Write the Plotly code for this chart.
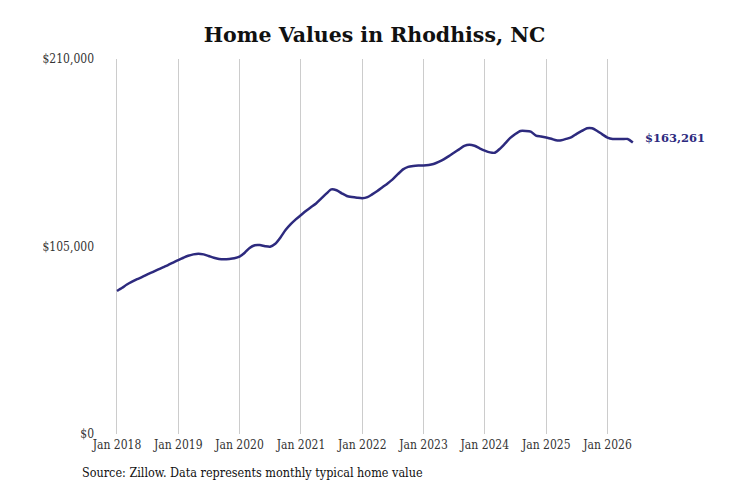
import pandas as pd
import plotly.graph_objects as go

# monthly typical home value, Jan 2018 .. Jun 2026
months = pd.date_range("2018-01-01", periods=102, freq="MS")
values = [
    80100, 81900, 83700, 85300, 86700, 88000, 89400, 90700, 92000, 93300, 94600, 96000,
    97400, 98700, 99800, 100600, 101000, 100600, 99700, 98700, 98000, 97800, 98000, 98400,
    99300, 101500, 104200, 105700, 105800, 105200, 104900, 106500, 110100, 114200, 117500, 120200,
    122600, 125000, 127000, 129100, 131800, 134600, 137000, 136500, 134800, 133300, 132700, 132300,
    132000, 132600, 134200, 136100, 138200, 140300, 142600, 145500, 148200, 149600, 150100, 150300,
    150300, 150600, 151200, 152400, 153800, 155600, 157500, 159400, 161300, 162000, 161400, 160000,
    158700, 157700, 157500, 159800, 162700, 165800, 168000, 169700, 169700, 169300, 167100, 166600,
    166000, 165300, 164500, 164500, 165300, 166300, 168100, 169700, 171200, 171200, 169700, 167800,
    166000, 165200, 165200, 165200, 165200, 163261,
]
x_ticks = pd.date_range("2018-01-01", "2026-01-01", freq="YS")
x_labels = [d.strftime("Jan %Y") for d in x_ticks]
y_ticks = [0, 105000, 210000]
y_labels = ["$0", "$105,000", "$210,000"]

line_color = "#2d2a7e"
serif = "DejaVu Serif Condensed, DejaVu Serif, serif"

fig = go.Figure()
fig.add_trace(go.Scatter(
    x=months, y=values, mode="lines",
    line=dict(color=line_color, width=2.5, shape="spline", smoothing=0.6),
    showlegend=False, hoverinfo="skip",
))

fig.add_annotation(
    x=months[-1], y=values[-1], text=f"<b>${values[-1]:,}</b>",
    showarrow=False, xanchor="left", yanchor="middle", xshift=10, yshift=4,
    font=dict(family="DejaVu Serif, serif", size=11.5, color=line_color),
)
fig.add_annotation(
    x=(80 - 95) / 606, y=(434 - 472) / 375, xref="paper", yref="paper",
    text="Source: Zillow. Data represents monthly typical home value",
    showarrow=False, xanchor="left", yanchor="middle",
    font=dict(family=serif, size=12.5, color="#111"),
)
fig.update_layout(
    width=731, height=487,
    margin=dict(l=95, r=30, t=59, b=53),
    paper_bgcolor="white", plot_bgcolor="white",
    title=dict(text="<b>Home Values in Rhodhiss, NC</b>", x=374.5 / 731, xanchor="center",
               y=1 - 35 / 487, yanchor="middle",
               font=dict(family="DejaVu Serif, serif", size=20.5, color="#111")),
    xaxis=dict(range=["2017-08-23", "2027-07-12"], tickvals=x_ticks, ticktext=x_labels,
               showgrid=True, gridcolor="#cccccc", gridwidth=1, zeroline=False,
               showline=False, ticks="", ticklabelstandoff=2,
               tickfont=dict(family=serif, size=12, color="#333")),
    yaxis=dict(range=[0, 210000], tickvals=y_ticks, ticktext=y_labels,
               showgrid=False, zeroline=False, showline=False, ticks="",
               tickfont=dict(family=serif, size=12, color="#333")),
)
fig.write_html("out.html", config={"displayModeBar": False},
               post_script="document.body.style.margin='0';")
